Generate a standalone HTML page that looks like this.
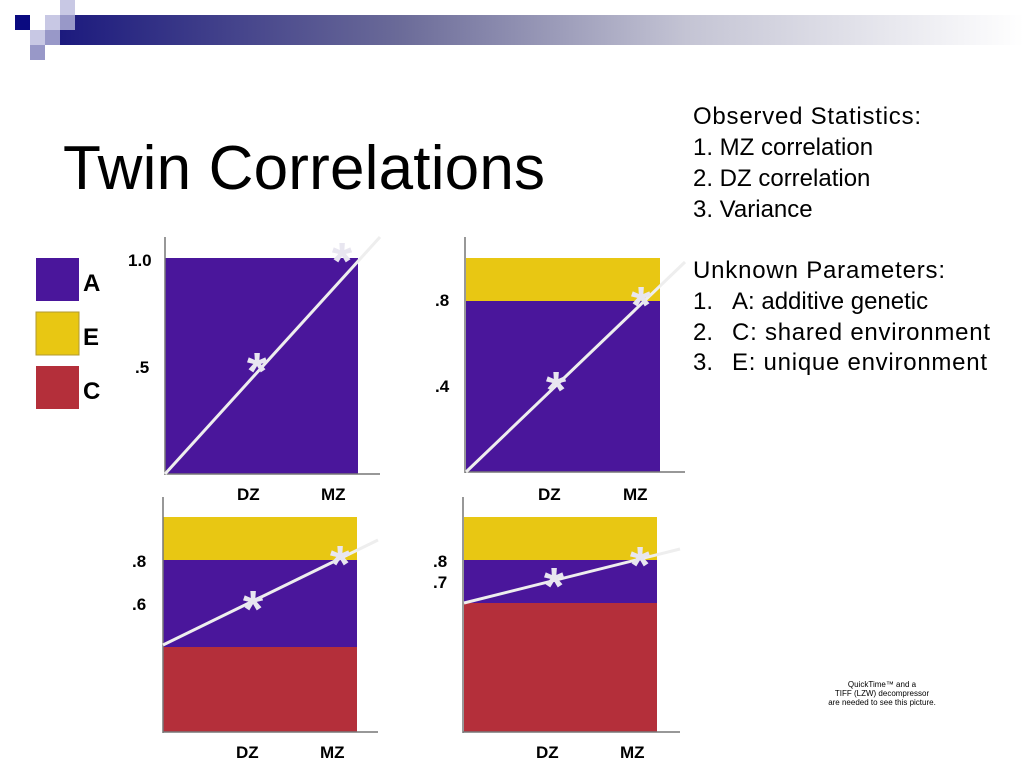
<!DOCTYPE html>
<html><head><meta charset="utf-8"><style>
html,body{margin:0;padding:0;background:#fff}
svg{display:block}
text{font-family:"Liberation Sans",Arial,sans-serif}
</style></head><body>
<svg width="1024" height="768" viewBox="0 0 1024 768" xmlns="http://www.w3.org/2000/svg">
<defs>
<linearGradient id="g" x1="0" x2="1" y1="0" y2="0">
<stop offset="0" stop-color="#1c1a7e"/>
<stop offset="0.35" stop-color="#6a6a98"/>
<stop offset="0.65" stop-color="#c4c4d4"/>
<stop offset="1" stop-color="#ffffff"/>
</linearGradient>
</defs>
<rect x="60" y="15" width="964" height="30" fill="url(#g)"/>
<rect x="15" y="15" width="15" height="15" fill="#0a0a80"/>
<rect x="45" y="15" width="15" height="15" fill="#c8c8e4"/>
<rect x="60" y="15" width="15" height="15" fill="#9898c8"/>
<rect x="60" y="0" width="15" height="15" fill="#c8c8e4"/>
<rect x="30" y="30" width="15" height="15" fill="#c8c8e4"/>
<rect x="45" y="30" width="15" height="15" fill="#9898c8"/>
<rect x="30" y="45" width="15" height="15" fill="#9898c8"/>

<text x="63" y="189" font-size="62" textLength="482">Twin Correlations</text>

<g font-size="24" fill="#000">
<text x="693" y="124" textLength="228">Observed Statistics:</text>
<text x="693" y="155">1. MZ correlation</text>
<text x="693" y="186">2. DZ correlation</text>
<text x="693" y="217">3. Variance</text>
<text x="693" y="278" textLength="252">Unknown Parameters:</text>
<text x="693" y="309">1.</text><text x="732" y="309">A: additive genetic</text>
<text x="693" y="340">2.</text><text x="732" y="340" textLength="258">C: shared environment</text>
<text x="693" y="370">3.</text><text x="732" y="370" textLength="255">E: unique environment</text>
</g>

<!-- legend -->
<rect x="36" y="258" width="43" height="43" fill="#4a169b"/>
<rect x="36" y="312" width="43" height="43" fill="#e8c713" stroke="#b09a30" stroke-width="1"/>
<rect x="36" y="366" width="43" height="43" fill="#b42f3a"/>
<g font-size="24" font-weight="bold">
<text x="83" y="291">A</text><text x="83" y="345">E</text><text x="83" y="399">C</text>
</g>

<g font-size="17" font-weight="bold">
<!-- P1 -->
<rect x="165" y="258" width="193" height="216" fill="#4a169b"/>
<line x1="165" y1="237" x2="165" y2="475" stroke="#777" stroke-width="1.5"/>
<line x1="165" y1="474" x2="380" y2="474" stroke="#777" stroke-width="1.5"/>
<line x1="165" y1="474" x2="380" y2="237" stroke="#eee" stroke-width="3"/>
<text x="128" y="266">1.0</text><text x="135" y="373">.5</text>
<text x="237" y="500">DZ</text><text x="321" y="500">MZ</text>
<!-- P2 -->
<rect x="466" y="258" width="194" height="43" fill="#e8c713"/>
<rect x="466" y="301" width="194" height="171" fill="#4a169b"/>
<line x1="465" y1="237" x2="465" y2="473" stroke="#777" stroke-width="1.5"/>
<line x1="465" y1="472" x2="685" y2="472" stroke="#777" stroke-width="1.5"/>
<line x1="466" y1="472" x2="685" y2="262" stroke="#eee" stroke-width="3"/>
<text x="435" y="306">.8</text><text x="435" y="392">.4</text>
<text x="538" y="500">DZ</text><text x="623" y="500">MZ</text>
<!-- P3 -->
<rect x="163" y="517" width="194" height="43" fill="#e8c713"/>
<rect x="163" y="560" width="194" height="87" fill="#4a169b"/>
<rect x="163" y="647" width="194" height="85" fill="#b42f3a"/>
<line x1="163" y1="497" x2="163" y2="733" stroke="#777" stroke-width="1.5"/>
<line x1="163" y1="732" x2="378" y2="732" stroke="#777" stroke-width="1.5"/>
<line x1="163" y1="645" x2="378" y2="540" stroke="#eee" stroke-width="3"/>
<text x="132" y="567">.8</text><text x="132" y="610">.6</text>
<text x="236" y="758">DZ</text><text x="320" y="758">MZ</text>
<!-- P4 -->
<rect x="464" y="517" width="193" height="43" fill="#e8c713"/>
<rect x="464" y="560" width="193" height="43" fill="#4a169b"/>
<rect x="464" y="603" width="193" height="129" fill="#b42f3a"/>
<line x1="463" y1="497" x2="463" y2="733" stroke="#777" stroke-width="1.5"/>
<line x1="463" y1="732" x2="680" y2="732" stroke="#777" stroke-width="1.5"/>
<line x1="464" y1="603" x2="680" y2="549" stroke="#eee" stroke-width="3"/>
<text x="433" y="567">.8</text><text x="433" y="588">.7</text>
<text x="536" y="758">DZ</text><text x="620" y="758">MZ</text>
</g>

<g font-size="52" font-weight="bold" fill="#e8e6f0" text-anchor="middle">
<text x="257" y="389">*</text><text x="342" y="279">*</text>
<text x="556" y="408">*</text><text x="641" y="323">*</text>
<text x="253" y="627">*</text><text x="340" y="582">*</text>
<text x="554" y="604">*</text><text x="640" y="583">*</text>
</g>

<g font-size="8" text-anchor="middle" fill="#000">
<text x="882" y="687">QuickTime™ and a</text>
<text x="882" y="696">TIFF (LZW) decompressor</text>
<text x="882" y="705">are needed to see this picture.</text>
</g>
</svg>
</body></html>
